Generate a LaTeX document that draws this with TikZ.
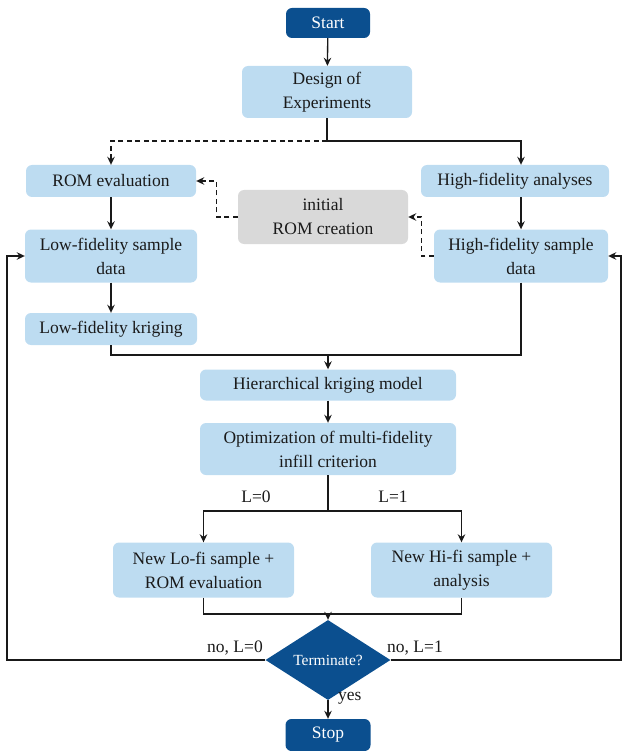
\documentclass[tikz,border=0pt]{standalone}
\usepackage{fontspec}
\setmainfont{Liberation Serif}[Ligatures=TeX]
\newfontfamily\timesfam{Liberation Serif}
\usetikzlibrary{arrows.meta,shapes.geometric,calc}
\definecolor{lightbox}{HTML}{BDDCF1}
\definecolor{darkbox}{HTML}{0B4F8F}
\definecolor{graybox}{HTML}{D9D9D9}
\definecolor{txt}{HTML}{1A1A1A}
\begin{document}
\begin{tikzpicture}[x=1pt,y=-1pt,
  every node/.style={font=\timesfam\fontsize{17.5}{24}\selectfont, text=txt},
  lbox/.style={rectangle, rounded corners=6pt, fill=lightbox, align=center, inner sep=0pt},
  dbox/.style={rectangle, rounded corners=6pt, fill=darkbox, align=center, inner sep=0pt, text=white},
  gbox/.style={rectangle, rounded corners=6pt, fill=graybox, align=center, inner sep=0pt},
  arr/.style={-{Stealth[length=8pt,width=7.5pt]}},
  conn/.style={line width=1.35pt, draw=black!90},
  dsh/.style={dash pattern=on 5pt off 3.5pt},
  lab/.style={inner sep=0pt}
]
\useasboundingbox (0,0) rectangle (623,751);

\node[dbox, minimum width=84pt, minimum height=30pt] (start) at (328,23) {Start};
\node[lbox, minimum width=170pt, minimum height=52pt] (doe) at (327,92) {Design of\\Experiments};
\node[lbox, minimum width=170pt, minimum height=32pt] (rom) at (111,181) {ROM evaluation};
\node[lbox, minimum width=188pt, minimum height=32pt] (hfa) at (515,181) {High-fidelity analyses};
\node[gbox, minimum width=170pt, minimum height=54pt] (init) at (323,217) {initial\\ROM creation};
\node[lbox, minimum width=172pt, minimum height=53pt] (lfs) at (111,256) {Low-fidelity sample\\data};
\node[lbox, minimum width=174pt, minimum height=53pt] (hfs) at (521,256) {High-fidelity sample\\data};
\node[lbox, minimum width=172pt, minimum height=32pt] (lfk) at (111,329) {Low-fidelity kriging};
\node[lbox, minimum width=256pt, minimum height=31pt] (hk) at (328,385) {Hierarchical kriging model};
\node[lbox, minimum width=256pt, minimum height=52pt] (opt) at (328,449) {Optimization of multi-fidelity\\infill criterion};
\node[lbox, minimum width=181pt, minimum height=55pt] (newlo) at (203.5,570) {New Lo-fi sample +\\ROM evaluation};
\node[lbox, minimum width=181pt, minimum height=55pt] (newhi) at (461.5,570) {New Hi-fi sample +\\analysis};
\node[diamond, fill=darkbox, minimum width=125pt, minimum height=54pt, inner sep=0pt, text=white,
      font=\timesfam\fontsize{15.5}{18}\selectfont] (term) at (328,660) {Terminate?};
\node[dbox, minimum width=85pt, minimum height=32pt] (stop) at (328,735) {Stop};

\coordinate (split) at (327,141);
\coordinate (m1) at (328,355);
\coordinate (b1) at (328,511);
\coordinate (m2) at (328,614);
\coordinate (lc) at (7,660);
\coordinate (rc) at (621,660);

% connectors
\draw[conn,arr] (start) -- (doe);
\draw[conn] (doe.south) -- (split);
\draw[conn,dsh,arr] (split) -| (rom.north);
\draw[conn,arr] (split) -| (hfa.north -| hfs.north);
\draw[conn,arr] (rom) -- (lfs);
\draw[conn,arr] (hfa.south -| hfs.north) -- (hfs.north);
\draw[conn,arr] (lfs) -- (lfk);
\draw[conn,dsh,arr] (init.west) -- ++(-21,0) |- (rom.east);
\draw[conn,dsh,arr] (hfs.west) -- ++(-12,0) |- (init.east);
\draw[conn] (lfk.south) |- (m1);
\draw[conn] (hfs.south) |- (m1);
\draw[conn,arr] (m1) -- (hk.north);
\draw[conn,arr] (hk) -- (opt);
\draw[conn] (opt.south) -- (b1);
\draw[conn,arr] (b1) -| (newlo.north);
\draw[conn,arr] (b1) -| (newhi.north);
\draw[conn] (newlo.south) |- (m2);
\draw[conn] (newhi.south) |- (m2);
\draw[conn,arr] (m2) -- (term.north);
\draw[conn,arr] (term.south) -- (stop.north);
\draw[conn,arr] (term.west) -- (lc) |- (lfs.west);
\draw[conn,arr] (term.east) -- (rc) |- (hfs.east);

% labels
\node[lab] (l0) at (256,497) {L=0};
\node[lab] (l1) at (393,497) {L=1};
\node[lab] (nol0) at (235,648) {no, L=0};
\node[lab] (nol1) at (415,648) {no, L=1};
\node[lab, anchor=west] (yes) at (338,698) {yes};
\end{tikzpicture}
\end{document}
